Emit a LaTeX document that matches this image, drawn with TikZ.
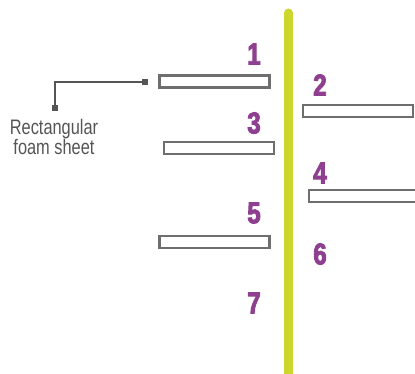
\documentclass[tikz,border=0pt]{standalone}
\usepackage{fontspec}
\usepackage{tikz}
\usetikzlibrary{arrows.meta}
\newfontfamily\calloutfont[FakeStretch=0.78]{Liberation Sans}
\newfontfamily\stepfont[FakeStretch=0.8,FakeBold=3]{Liberation Sans Bold}
\definecolor{polegreen}{HTML}{CDD62B}
\definecolor{steppurple}{HTML}{8E3F8F}
\definecolor{sheetgray}{HTML}{6E6E6E}
\definecolor{textgray}{HTML}{555555}
\tikzset{edge/.style = {{Square[length=6pt,width=6pt]}-{Square[length=6pt,width=6pt]}, line width=1.2pt, draw=textgray}}

\begin{document}
\begin{tikzpicture}[x=1pt,y=-1pt,
  sheet/.style={rectangle,draw=sheetgray,line width=2.8pt,fill=white,minimum width=110pt,minimum height=12pt,inner sep=0pt},
  num/.style={text=steppurple,font=\stepfont\fontsize{30}{30}\selectfont,inner sep=0pt}]
            \useasboundingbox (0,0) rectangle (415,373);
            % pole
            \coordinate (top) at (288.5,13);
            \coordinate (bottom) at (288.5,380);
            \draw[polegreen,line width=9pt,line cap=round] (top) -- (bottom);
            % sheets
            \node[sheet] (sheet1) at (214.5,81.5) {};
            \node[sheet] (sheet2) at (358,111) {};
            \node[sheet] (sheet3) at (219,148) {};
            \node[sheet] (sheet4) at (364,196) {};
            \node[sheet] (sheet5) at (214.5,242) {};
            % numbers
            \node[num] (n1) at (254,54) {1};
            \node[num] (n2) at (320,85) {2};
            \node[num] (n3) at (254,123) {3};
            \node[num] (n4) at (320,173) {4};
            \node[num] (n5) at (254,213) {5};
            \node[num] (n6) at (320,254) {6};
            \node[num] (n7) at (254,303) {7};
            % callout
            \node[text=textgray,font=\calloutfont\fontsize{21}{20}\selectfont,align=center,inner sep=0pt,anchor=north] (label) at (54,119) {Rectangular\\foam sheet};
            \coordinate (tip) at (148,82);
            \coordinate (foot) at (55,111);
            \draw[edge] (foot) |- (tip);
        \end{tikzpicture}
\end{document}
